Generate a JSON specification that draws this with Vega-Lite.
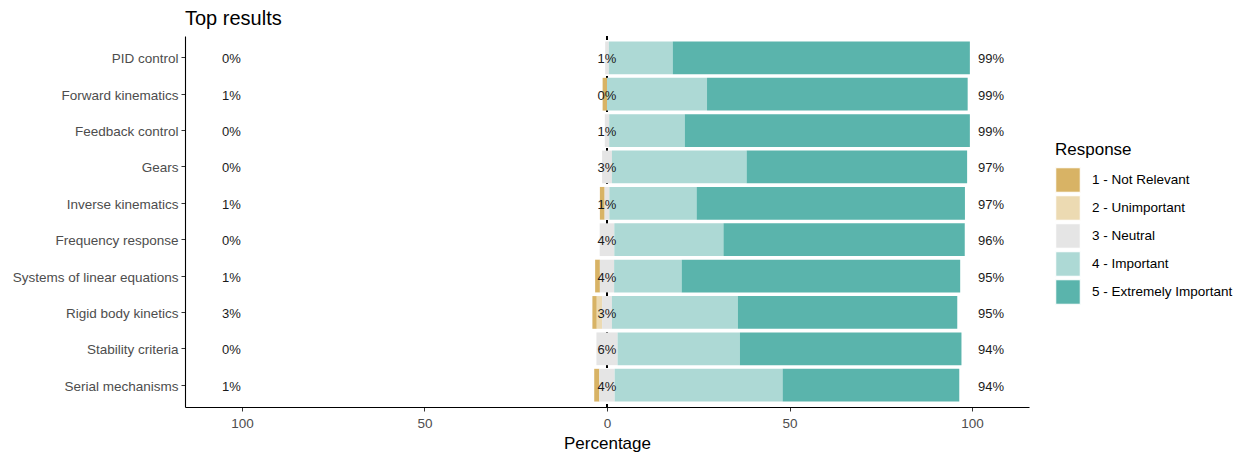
{
  "$schema": "https://vega.github.io/schema/vega-lite/v6.json",
  "autosize": {"type": "none"},
  "padding": {"left": 185, "top": 36, "right": 214, "bottom": 49},
  "width": 844,
  "height": 371,
  "background": "white",
  "title": {"text": "Top results", "anchor": "start", "frame": "group", "font": "Liberation Sans", "fontSize": 20, "fontWeight": "normal", "color": "#000000", "offset": 7},
  "config": {
    "view": {"stroke": null},
    "font": "Liberation Sans",
    "axis": {"grid": false, "domainColor": "#000000", "domainWidth": 1.1, "tickColor": "#333333", "tickSize": 4, "labelColor": "#4D4D4D", "labelFont": "Liberation Sans", "labelFontSize": 13.5, "titleFont": "Liberation Sans", "titleFontWeight": "normal", "titleColor": "#000000", "titleFontSize": 17}
  },
  "datasets": {
    "responses": [
      {"item": "PID control", "response": "3 - Neutral", "pct": -0.5},
      {"item": "PID control", "response": "3 - Neutral", "pct": 0.5},
      {"item": "PID control", "response": "4 - Important", "pct": 17.5},
      {"item": "PID control", "response": "5 - Extremely Important", "pct": 81.4},
      {"item": "Forward kinematics", "response": "1 - Not Relevant", "pct": -1.2},
      {"item": "Forward kinematics", "response": "4 - Important", "pct": 27.4},
      {"item": "Forward kinematics", "response": "5 - Extremely Important", "pct": 71.4},
      {"item": "Feedback control", "response": "3 - Neutral", "pct": -0.6},
      {"item": "Feedback control", "response": "3 - Neutral", "pct": 0.6},
      {"item": "Feedback control", "response": "4 - Important", "pct": 20.7},
      {"item": "Feedback control", "response": "5 - Extremely Important", "pct": 78.1},
      {"item": "Gears", "response": "3 - Neutral", "pct": -1.35},
      {"item": "Gears", "response": "3 - Neutral", "pct": 1.35},
      {"item": "Gears", "response": "4 - Important", "pct": 36.9},
      {"item": "Gears", "response": "5 - Extremely Important", "pct": 60.4},
      {"item": "Inverse kinematics", "response": "1 - Not Relevant", "pct": -1.3},
      {"item": "Inverse kinematics", "response": "3 - Neutral", "pct": -0.65},
      {"item": "Inverse kinematics", "response": "3 - Neutral", "pct": 0.65},
      {"item": "Inverse kinematics", "response": "4 - Important", "pct": 23.9},
      {"item": "Inverse kinematics", "response": "5 - Extremely Important", "pct": 73.5},
      {"item": "Frequency response", "response": "3 - Neutral", "pct": -2.0},
      {"item": "Frequency response", "response": "3 - Neutral", "pct": 2.0},
      {"item": "Frequency response", "response": "4 - Important", "pct": 29.9},
      {"item": "Frequency response", "response": "5 - Extremely Important", "pct": 66.1},
      {"item": "Systems of linear equations", "response": "1 - Not Relevant", "pct": -1.3},
      {"item": "Systems of linear equations", "response": "3 - Neutral", "pct": -1.95},
      {"item": "Systems of linear equations", "response": "3 - Neutral", "pct": 1.95},
      {"item": "Systems of linear equations", "response": "4 - Important", "pct": 18.5},
      {"item": "Systems of linear equations", "response": "5 - Extremely Important", "pct": 76.3},
      {"item": "Rigid body kinetics", "response": "1 - Not Relevant", "pct": -1.2},
      {"item": "Rigid body kinetics", "response": "2 - Unimportant", "pct": -1.45},
      {"item": "Rigid body kinetics", "response": "3 - Neutral", "pct": -1.35},
      {"item": "Rigid body kinetics", "response": "3 - Neutral", "pct": 1.35},
      {"item": "Rigid body kinetics", "response": "4 - Important", "pct": 34.5},
      {"item": "Rigid body kinetics", "response": "5 - Extremely Important", "pct": 60.1},
      {"item": "Stability criteria", "response": "3 - Neutral", "pct": -2.9},
      {"item": "Stability criteria", "response": "3 - Neutral", "pct": 2.9},
      {"item": "Stability criteria", "response": "4 - Important", "pct": 33.5},
      {"item": "Stability criteria", "response": "5 - Extremely Important", "pct": 60.7},
      {"item": "Serial mechanisms", "response": "1 - Not Relevant", "pct": -1.4},
      {"item": "Serial mechanisms", "response": "3 - Neutral", "pct": -2.1},
      {"item": "Serial mechanisms", "response": "3 - Neutral", "pct": 2.1},
      {"item": "Serial mechanisms", "response": "4 - Important", "pct": 46.0},
      {"item": "Serial mechanisms", "response": "5 - Extremely Important", "pct": 48.4}
    ],
    "labels": [
      {"item": "PID control", "low": "0%", "neutral": "1%", "high": "99%"},
      {"item": "Forward kinematics", "low": "1%", "neutral": "0%", "high": "99%"},
      {"item": "Feedback control", "low": "0%", "neutral": "1%", "high": "99%"},
      {"item": "Gears", "low": "0%", "neutral": "3%", "high": "97%"},
      {"item": "Inverse kinematics", "low": "1%", "neutral": "1%", "high": "97%"},
      {"item": "Frequency response", "low": "0%", "neutral": "4%", "high": "96%"},
      {"item": "Systems of linear equations", "low": "1%", "neutral": "4%", "high": "95%"},
      {"item": "Rigid body kinetics", "low": "3%", "neutral": "3%", "high": "95%"},
      {"item": "Stability criteria", "low": "0%", "neutral": "6%", "high": "94%"},
      {"item": "Serial mechanisms", "low": "1%", "neutral": "4%", "high": "94%"}
    ]
  },
  "encoding": {
    "y": {
      "field": "item", "type": "nominal",
      "sort": ["PID control", "Forward kinematics", "Feedback control", "Gears", "Inverse kinematics", "Frequency response", "Systems of linear equations", "Rigid body kinetics", "Stability criteria", "Serial mechanisms"],
      "scale": {"paddingInner": 0.1, "paddingOuter": 0.15},
      "axis": {"title": null, "labelPadding": 3, "labelFontSize": 13.5, "labelOffset": 1.5}
    }
  },
  "layer": [
    {
      "data": {"name": "labels"},
      "mark": {"type": "rule", "color": "#000000", "strokeWidth": 1, "strokeDash": [4, 4]},
      "encoding": {
        "y": null,
        "x": {"datum": 0, "type": "quantitative", "title": "Percentage"}
      }
    },
    {
      "data": {"name": "responses"},
      "transform": [{"filter": "datum.pct < 0"}],
      "mark": {"type": "bar"},
      "encoding": {
        "x": {
          "field": "pct", "type": "quantitative", "stack": "zero", "title": "Percentage",
          "scale": {"domain": [-115.6, 115.6], "nice": false, "zero": false},
          "axis": {"values": [-100, -50, 0, 50, 100], "labelExpr": "abs(datum.value)", "labelPadding": 5, "titlePadding": 6, "labelFontSize": 13.5}
        },
        "color": {
          "field": "response", "type": "nominal",
          "scale": {"domain": ["1 - Not Relevant", "2 - Unimportant", "3 - Neutral", "4 - Important", "5 - Extremely Important"], "range": ["#D8B365", "#ECDAB2", "#E5E5E5", "#ADD9D5", "#5AB4AC"]},
          "legend": {"title": "Response", "orient": "none", "legendX": 870, "legendY": 106, "symbolType": "square", "symbolSize": 600, "symbolStrokeColor": "white", "symbolStrokeWidth": 1, "symbolOpacity": 1, "rowPadding": -2.5, "titlePadding": 8, "labelOffset": 11, "labelFont": "Liberation Sans", "labelFontSize": 13.5, "labelColor": "#000000", "titleFont": "Liberation Sans", "titleFontSize": 17, "titleFontWeight": "normal", "titleColor": "#000000"}
        },
        "order": {"field": "response", "sort": "descending"}
      }
    },
    {
      "data": {"name": "responses"},
      "transform": [{"filter": "datum.pct > 0"}],
      "mark": {"type": "bar"},
      "encoding": {
        "x": {"field": "pct", "type": "quantitative", "stack": "zero", "title": "Percentage"},
        "color": {"field": "response", "type": "nominal"},
        "order": {"field": "response", "sort": "ascending"}
      }
    },
    {
      "data": {"name": "labels"},
      "mark": {"type": "text", "fontSize": 13, "color": "#1A1A1A", "align": "center", "baseline": "middle", "dy": 1.5},
      "encoding": {"x": {"datum": -102.9, "type": "quantitative", "title": "Percentage"}, "text": {"field": "low"}}
    },
    {
      "data": {"name": "labels"},
      "mark": {"type": "text", "fontSize": 13, "color": "#1A1A1A", "align": "center", "baseline": "middle", "dy": 1.5},
      "encoding": {"x": {"datum": 0, "type": "quantitative", "title": "Percentage"}, "text": {"field": "neutral"}}
    },
    {
      "data": {"name": "labels"},
      "mark": {"type": "text", "fontSize": 13, "color": "#1A1A1A", "align": "center", "baseline": "middle", "dy": 1.5},
      "encoding": {"x": {"datum": 105.2, "type": "quantitative", "title": "Percentage"}, "text": {"field": "high"}}
    }
  ]
}
